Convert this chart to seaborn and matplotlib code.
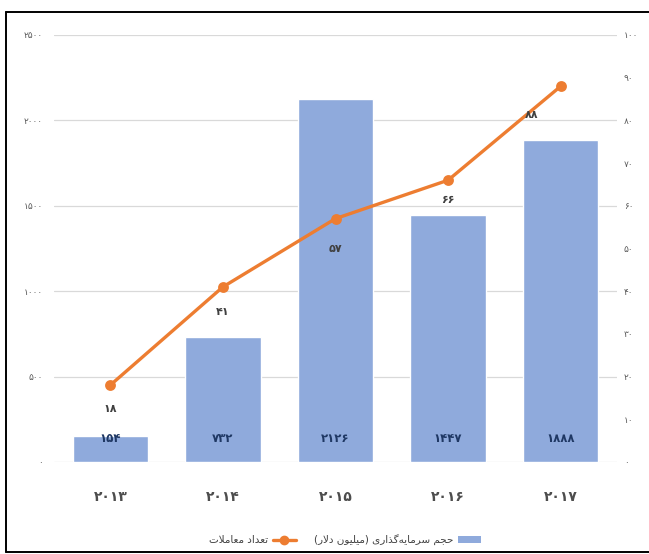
import numpy as np
import pandas as pd
import matplotlib
matplotlib.use("Agg")
import matplotlib.pyplot as plt
import seaborn as sns
from matplotlib.patches import Patch
from matplotlib.lines import Line2D

# ---- data ----
years = ["2013", "2014", "2015", "2016", "2017"]
investment = [154, 732, 2126, 1447, 1888]      # million dollars
deals = [18, 41, 57, 66, 88]                   # number of deals
left_ticks = [0, 500, 1000, 1500, 2000, 2500]
right_ticks = [0, 10, 20, 30, 40, 50, 60, 70, 80, 90, 100]
label_invest = "حجم سرمایه‌گذاری (میلیون دلار)"
label_deals = "تعداد معاملات"

BAR_COLOR = "#8FAADC"
LINE_COLOR = "#ED7D31"

# ---- Persian helpers ----
FA_DIGITS = str.maketrans("0123456789", "۰۱۲۳۴۵۶۷۸۹")


def fa_num(v):
    return str(v).translate(FA_DIGITS)


# (isolated, final, initial, medial)
FORMS = {
    "ا": ("\uFE8D", "\uFE8E", None, None),
    "ت": ("\uFE95", "\uFE96", "\uFE97", "\uFE98"),
    "ج": ("\uFE9D", "\uFE9E", "\uFE9F", "\uFEA0"),
    "ح": ("\uFEA1", "\uFEA2", "\uFEA3", "\uFEA4"),
    "د": ("\uFEA9", "\uFEAA", None, None),
    "ذ": ("\uFEAB", "\uFEAC", None, None),
    "ر": ("\uFEAD", "\uFEAE", None, None),
    "س": ("\uFEB1", "\uFEB2", "\uFEB3", "\uFEB4"),
    "ع": ("\uFEC9", "\uFECA", "\uFECB", "\uFECC"),
    "گ": ("\uFB92", "\uFB93", "\uFB94", "\uFB95"),
    "ل": ("\uFEDD", "\uFEDE", "\uFEDF", "\uFEE0"),
    "م": ("\uFEE1", "\uFEE2", "\uFEE3", "\uFEE4"),
    "ن": ("\uFEE5", "\uFEE6", "\uFEE7", "\uFEE8"),
    "ه": ("\uFEE9", "\uFEEA", "\uFEEB", "\uFEEC"),
    "و": ("\uFEED", "\uFEEE", None, None),
    "ی": ("\uFBFC", "\uFBFD", "\uFBFE", "\uFBFF"),
}
LAM_ALEF = ("\uFEFB", "\uFEFC")
MIRROR = {"(": ")", ")": "("}


def shape_rtl(text):
    """Contextual shaping + visual reordering for a right-to-left label."""
    out = []
    chars = list(text)
    i = 0
    n = len(chars)

    def joins_left(c):
        return c in FORMS and FORMS[c][2] is not None

    while i < n:
        c = chars[i]
        prev = chars[i - 1] if i > 0 else ""
        prev_joins = joins_left(prev)
        if c == "ل" and i + 1 < n and chars[i + 1] == "ا":
            out.append(LAM_ALEF[1] if prev_joins else LAM_ALEF[0])
            i += 2
            continue
        if c in FORMS:
            nxt = chars[i + 1] if i + 1 < n else ""
            iso, fin, ini, med = FORMS[c]
            next_joins = nxt in FORMS and ini is not None
            if prev_joins and next_joins:
                out.append(med)
            elif prev_joins:
                out.append(fin)
            elif next_joins:
                out.append(ini)
            else:
                out.append(iso)
        elif c == "\u200c":
            pass
        else:
            out.append(MIRROR.get(c, c))
        i += 1
    return "".join(reversed(out))


# ---- figure ----
sns.set_theme(style="white")
plt.rcParams["font.family"] = ["DejaVu Sans"]

W, H = 649, 554
fig = plt.figure(figsize=(W / 100, H / 100), dpi=100)
ax = fig.add_axes([54 / W, 92 / H, 563 / W, 427 / H])

df = pd.DataFrame({"year": years, "investment": investment, "deals": deals})

sns.barplot(data=df, x="year", y="investment", color=BAR_COLOR,
            saturation=1, width=0.67, ax=ax, zorder=2)

ax.set_ylim(0, 2500)
ax.set_yticks(left_ticks)
ax.set_yticklabels([fa_num(t) for t in left_ticks], fontsize=6.5, color="#595959")
ax.yaxis.grid(True, color="#D9D9D9", linewidth=0.9, zorder=0)
ax.set_axisbelow(True)
ax.tick_params(axis="y", length=0, pad=8)
ax.tick_params(axis="x", length=0, pad=20)
ax.set_xticks(range(len(years)))
ax.set_xticklabels([fa_num(y) for y in years], fontsize=10, color="#4D4D4D",
                   fontweight="semibold")
ax.set_xlabel("")
ax.set_ylabel("")
for s in ax.spines.values():
    s.set_visible(False)

# bar value labels near the base of each bar
for patch, val in zip(ax.patches, investment):
    cx = patch.get_x() + patch.get_width() / 2
    ax.annotate(fa_num(val), (cx, 0), xytext=(0, 17), textcoords="offset points",
                ha="center", va="center", fontsize=8.5, fontweight="bold",
                color="#1F3864", zorder=5)

# deals line on the secondary axis
ax2 = ax.twinx()
sns.pointplot(data=df, x="year", y="deals", color=LINE_COLOR, markers="o",
              linestyles="-", ax=ax2, markersize=6, linewidth=2.4)
ax2.set_ylim(0, 100)
ax2.set_yticks(right_ticks)
ax2.set_yticklabels([fa_num(t) for t in right_ticks], fontsize=6.5, color="#595959")
ax2.tick_params(axis="y", length=0, pad=5)
ax2.set_ylabel("")
ax2.set_xlim(ax.get_xlim())
for s in ax2.spines.values():
    s.set_visible(False)

offsets = [(0, -17), (0, -18), (0, -22), (0, -14), (-21, -21)]
for i, (val, off) in enumerate(zip(deals, offsets)):
    ax2.annotate(fa_num(val), (i, val), xytext=off, textcoords="offset points",
                 ha="center", va="center", fontsize=8, fontweight="bold",
                 color="#404040")

# legend
handles = [
    Line2D([0], [0], color=LINE_COLOR, lw=2.4, marker="o", markersize=6),
    Patch(facecolor=BAR_COLOR, edgecolor="none"),
]
labels = [shape_rtl(label_deals), shape_rtl(label_invest)]
fig.legend(handles, labels, loc="center", bbox_to_anchor=(345 / W, 1 - 540 / H),
           ncol=2, frameon=False, markerfirst=False, fontsize=7.5,
           labelcolor="#404040", handlelength=2.2, columnspacing=1.8,
           handletextpad=0.4)

# outer frame: left, top and bottom edges (open on the right)
x0, y0, y1 = 5.5 / W, 2 / H, 1 - 12 / H
for xs, ys in [([x0, x0], [y0, y1]), ([x0, 1.0], [y1, y1]), ([x0, 1.0], [y0, y0])]:
    fig.add_artist(Line2D(xs, ys, transform=fig.transFigure,
                          color="black", linewidth=1.4))

fig.savefig("out.png", dpi=100)
